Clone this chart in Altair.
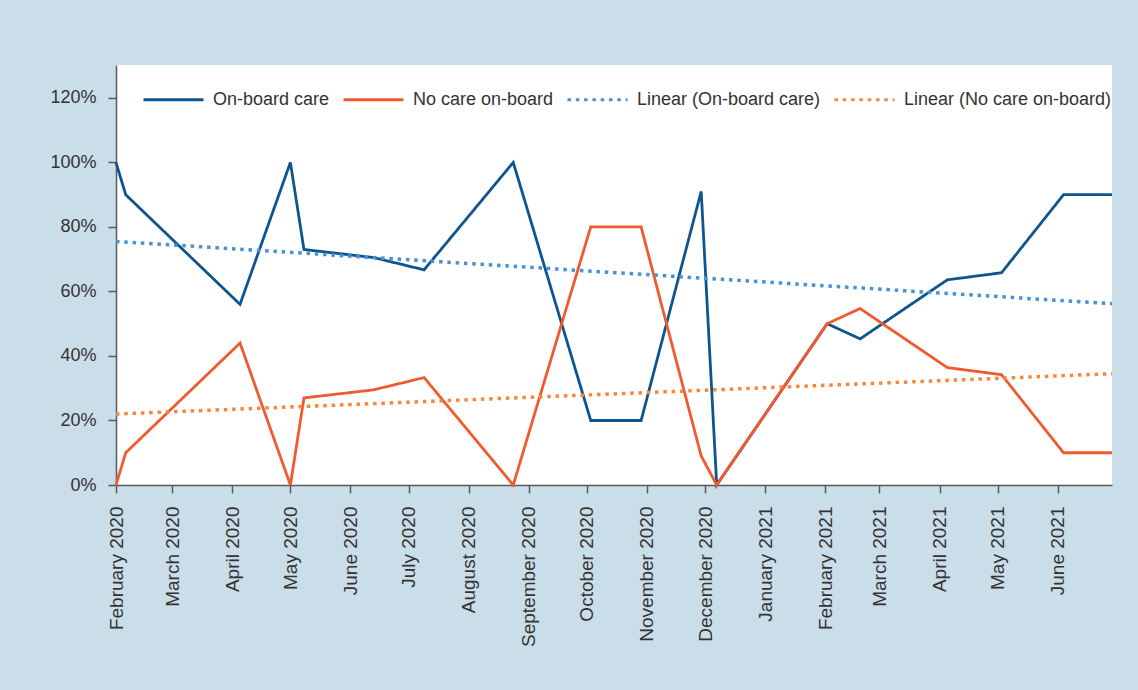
import altair as alt
import pandas as pd

# ---- data ----
SERIES = ["On-board care", "No care on-board", "Linear (On-board care)", "Linear (No care on-board)"]
COLORS = ["#0e558f", "#f15a2e", "#4a90d6", "#f5883a"]

dates = ["2020-02-01", "2020-02-06", "2020-04-05", "2020-05-01", "2020-05-08", "2020-06-13",
         "2020-07-09", "2020-08-24", "2020-10-03", "2020-10-29", "2020-11-29", "2020-12-07",
         "2021-02-02", "2021-02-19", "2021-04-05", "2021-05-03", "2021-06-04", "2021-06-29"]
onboard = [1.00, 0.90, 0.56, 1.00, 0.73, 0.705, 0.667, 1.00, 0.20, 0.20, 0.91, 0.00,
           0.50, 0.453, 0.636, 0.658, 0.90, 0.90]
nocare = [0.00, 0.10, 0.44, 0.00, 0.27, 0.295, 0.333, 0.00, 0.80, 0.80, 0.09, 0.00,
          0.50, 0.547, 0.364, 0.342, 0.10, 0.10]

trend_dates = ["2020-02-01", "2021-06-29"]
trend_onboard = [0.755, 0.562]
trend_nocare = [0.22, 0.345]

month_ticks = [(2020, m) for m in range(2, 13)] + [(2021, m) for m in range(1, 7)]
y_ticks = [0, 0.2, 0.4, 0.6, 0.8, 1.0, 1.2]

FONT = "Liberation Sans"
TXT = "#333333"
AX = "#595959"

rows = []
for series_name, ds, vs in [(SERIES[0], dates, onboard), (SERIES[1], dates, nocare),
                            (SERIES[2], trend_dates, trend_onboard), (SERIES[3], trend_dates, trend_nocare)]:
    for d, v in zip(ds, vs):
        rows.append({"date": d, "value": v, "series": series_name})
df = pd.DataFrame(rows)

legend = alt.Legend(
    orient="none", legendX=26, legendY=3, direction="horizontal", title=None,
    symbolType="stroke", symbolSize=3600, symbolStrokeWidth=3,
    labelFontSize=18, labelFont=FONT, labelColor=TXT, labelOffset=8,
    columnPadding=7, padding=0, labelLimit=0,
)

color_scale = alt.Scale(domain=SERIES, range=COLORS)
dash_scale = alt.Scale(domain=SERIES, range=[[1, 0], [1, 0], [3.5, 4.8], [3.5, 4.8]])

x_enc = alt.X(
    "date:T", title=None,
    scale=alt.Scale(type="utc",
                    domain=[alt.DateTime(year=2020, month=2, date=1, utc=True),
                            alt.DateTime(year=2021, month=6, date=29, utc=True)]),
    axis=alt.Axis(
        values=[alt.DateTime(year=y, month=m, date=1, utc=True) for y, m in month_ticks],
        labelExpr="utcFormat(datum.value, '%B %Y')",
        labelAngle=270, labelFlush=False, labelOverlap=False,
        tickSize=8, labelPadding=13, grid=False,
        domainColor=AX, tickColor=AX, domainWidth=1.5, tickWidth=1.5,
        labelFont=FONT, labelFontSize=19, labelColor=TXT,
    ),
)
y_enc = alt.Y(
    "value:Q", title=None,
    scale=alt.Scale(domain=[0, 1.302], nice=False, zero=True),
    axis=alt.Axis(
        values=y_ticks, format=".0%", tickSize=8, labelPadding=12, grid=False,
        domainColor=AX, tickColor=AX, domainWidth=1.5, tickWidth=1.5,
        labelFont=FONT, labelFontSize=18, labelColor=TXT,
    ),
)

base = alt.Chart(df).encode(
    x=x_enc, y=y_enc,
    color=alt.Color("series:N", scale=color_scale, legend=legend),
    strokeDash=alt.StrokeDash("series:N", scale=dash_scale, legend=legend),
)

layers = []
for i, s in enumerate(SERIES):
    w = 2.8 if i < 2 else 3.5
    layers.append(base.mark_line(strokeWidth=w, strokeJoin="miter").transform_filter(alt.datum.series == s))

chart = alt.layer(*layers).properties(
    width=996, height=420,
    padding={"left": 116, "top": 65, "right": 26, "bottom": 205},
    autosize=alt.AutoSizeParams(type="none"),
    background="#cadeea",
).configure_view(fill="white", strokeWidth=0)

chart.save("out.html", embed_options={"renderer": "svg", "actions": False})
